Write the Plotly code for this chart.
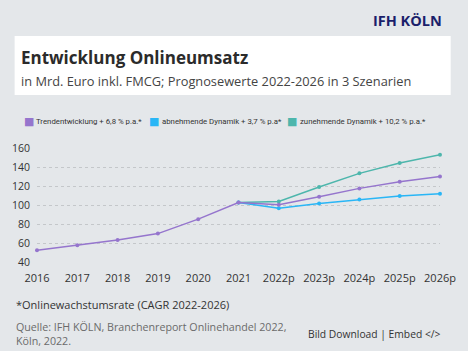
import plotly.graph_objects as go

categories = ["2016", "2017", "2018", "2019", "2020", "2021", "2022p", "2023p", "2024p", "2025p", "2026p"]
trend = [52.3, 57.6, 63.2, 69.9, 85.1, 102.7, 100.2, 108.7, 117.5, 124.5, 130.1]
abnehmend = [None, None, None, None, None, 102.7, 96.7, 101.6, 105.8, 109.4, 111.8]
zunehmend = [None, None, None, None, None, 102.7, 103.7, 118.9, 133.3, 144.2, 153.0]
y_ticks = [40, 60, 80, 100, 120, 140, 160]

series = [
    ("Trendentwicklung + 6,8 % p.a.*", trend, "#9575cd"),
    ("abnehmende Dynamik + 3,7 % p.a*", abnehmend, "#29b6f6"),
    ("zunehmende Dynamik + 10,2 % p.a.*", zunehmend, "#4db6ac"),
]

W, H = 468, 351
L, R, T, B = 33, 21, 148, 89
PW, PH = W - L - R, H - T - B

def px(x):
    return (x - L) / PW

def py(y):
    return 1 - (y - T) / PH

fig = go.Figure()
for name, vals, color in [series[2], series[1], series[0]]:
    fig.add_trace(go.Scatter(
        x=categories, y=vals, mode="lines+markers", name=name,
        line=dict(color=color, width=1.5),
        marker=dict(color=color, size=4),
        cliponaxis=False, showlegend=False, connectgaps=False,
    ))

font_main = "Open Sans"
ann = []
shapes = [dict(type="rect", xref="paper", yref="paper", x0=px(10), x1=px(458), y0=py(95), y1=py(36),
               fillcolor="#ffffff", line=dict(width=0), layer="below")]

ann.append(dict(text="<b>IFH KÖLN</b>", x=px(451), y=py(20), xanchor="right", yanchor="middle",
                font=dict(family=font_main, size=14.5, color="#1b1f6b")))
ann.append(dict(text="<b>Entwicklung Onlineumsatz</b>", x=px(15), y=py(57), xanchor="left", yanchor="middle",
                font=dict(family=font_main, size=17, color="#2b2b2b")))
ann.append(dict(text="in Mrd. Euro inkl. FMCG; Prognosewerte 2022-2026 in 3 Szenarien", x=px(15), y=py(81),
                xanchor="left", yanchor="middle", font=dict(family=font_main, size=12.8, color="#444444")))

leg_sq = [20, 148, 290]
leg_tx = [30, 159, 301]
for (name, vals, color), sx, tx in zip(series, leg_sq, leg_tx):
    ann.append(dict(text="■", x=px(sx - 2), y=py(121), xanchor="left", yanchor="middle",
                    font=dict(family="DejaVu Sans", size=11, color=color)))
    ann.append(dict(text=name, x=px(tx), y=py(121), xanchor="left", yanchor="middle",
                    font=dict(family="Roboto", size=7.8, color="#333333")))

ann.append(dict(text="*Onlinewachstumsrate (CAGR 2022-2026)", x=px(9), y=py(304), xanchor="left", yanchor="middle",
                font=dict(family=font_main, size=11, color="#333333")))
ann.append(dict(text="Quelle: IFH KÖLN, Branchenreport Onlinehandel 2022,<br>Köln, 2022.", x=px(9), y=py(334),
                xanchor="left", yanchor="middle", align="left",
                font=dict(family=font_main, size=10.7, color="#6b6b6b")))
ann.append(dict(text="Bild Download | Embed &lt;/&gt;", x=px(450), y=py(334), xanchor="right", yanchor="middle",
                font=dict(family=font_main, size=10.3, color="#333333")))
for a in ann:
    a.update(xref="paper", yref="paper", showarrow=False)

fig.update_layout(
    width=W, height=H,
    margin=dict(l=L, r=R, t=T, b=B),
    paper_bgcolor="#e4e7ea", plot_bgcolor="#e4e7ea",
    showlegend=False,
    annotations=ann, shapes=shapes,
    xaxis=dict(type="category", range=[0, 10], showgrid=False, zeroline=False, showline=False,
               ticks="", tickfont=dict(family=font_main, size=11, color="#333333"), ticklabelstandoff=8),
    yaxis=dict(range=[40, 160], tickvals=y_ticks, showgrid=True, gridcolor="#c4c7ca", griddash="dot",
               gridwidth=1, zeroline=False, showline=False, ticks="",
               tickfont=dict(family=font_main, size=10.5, color="#333333"), ticklabelstandoff=6),
)

fig.write_html("out.html")
